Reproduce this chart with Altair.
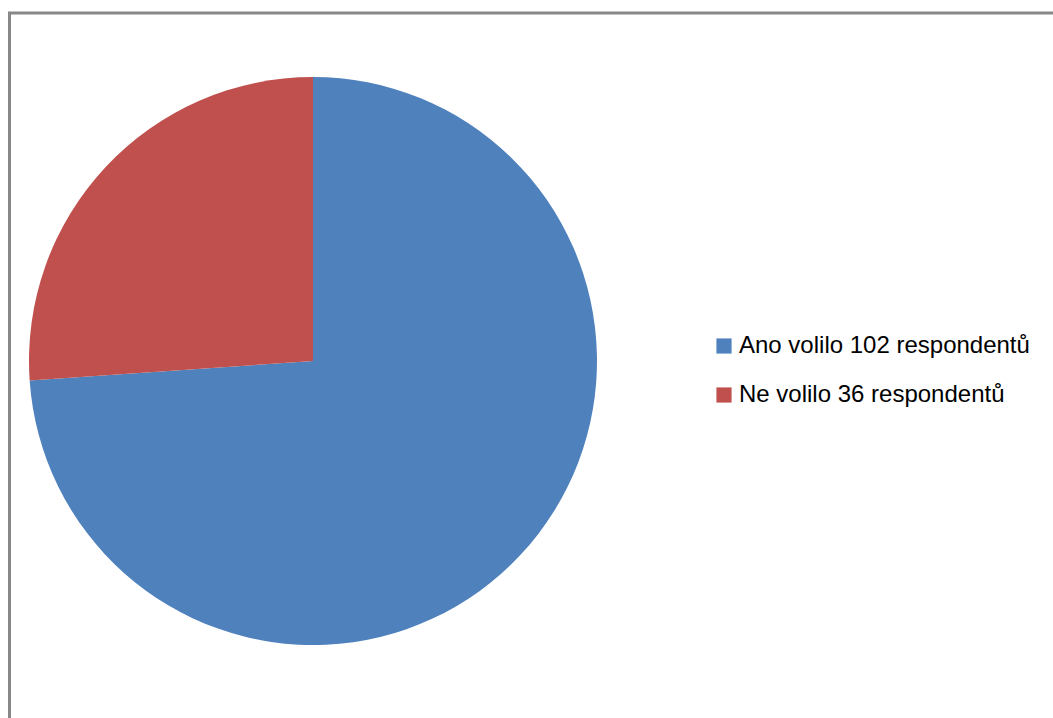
import altair as alt
import pandas as pd

categories = ["Ano volilo 102 respondentů", "Ne volilo 36 respondentů"]
values = [102, 36]
colors = ["#4F81BD", "#C0504D"]

df = pd.DataFrame({"kategorie": categories, "pocet": values, "poradi": [0, 1]})

pie = alt.Chart(df).mark_arc(radius=284).encode(
    theta=alt.Theta("pocet:Q", stack=True),
    color=alt.Color(
        "kategorie:N",
        scale=alt.Scale(domain=categories, range=colors),
        legend=alt.Legend(
            title=None,
            orient="none",
            legendX=712,
            legendY=334,
            symbolType="square",
            symbolSize=230,
            symbolStrokeWidth=0,
            labelFont="Liberation Sans",
            labelFontSize=24,
            labelColor="#000000",
            labelOffset=3,
            rowPadding=25,
            labelLimit=400,
        ),
    ),
    order=alt.Order("poradi:Q"),
    x=alt.value(313),
    y=alt.value(361),
)

border = alt.Chart(alt.Data(values=[{"a": 1}])).mark_rect(
    fill=None, stroke="#888888", strokeWidth=3
).encode(
    x=alt.value(9.5), y=alt.value(13), x2=alt.value(1070), y2=alt.value(740)
)

chart = alt.layer(border, pie).properties(
    width=1053,
    height=718,
    autosize=alt.AutoSizeParams(type="none"),
    padding=0,
    background="white",
).configure_view(stroke=None)

chart.save("out.html", embed_options={"renderer": "svg", "actions": False})
